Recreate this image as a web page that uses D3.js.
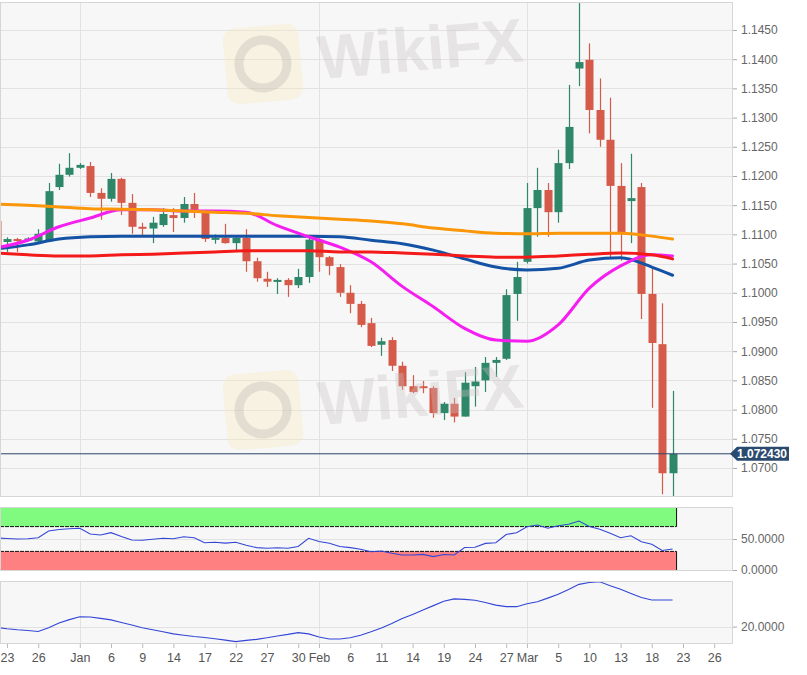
<!DOCTYPE html>
<html>
<head>
<meta charset="utf-8">
<script src="https://cdn.jsdelivr.net/npm/d3@7"></script>
<style>
  body { margin: 0; background: #fff; }
  svg { display: block; font-family: "Liberation Sans", Arial, sans-serif; }
</style>
</head>
<body>
<div id="chart"></div>
<script>
// Daily EUR/USD candles with moving averages and two indicator panes

// Trading days on the axis (the last five are empty future days)
const days = [
  "2019-12-20", "2019-12-23", "2019-12-24", "2019-12-25", "2019-12-26", "2019-12-27", "2019-12-30", "2019-12-31",
  "2020-01-01", "2020-01-02", "2020-01-03", "2020-01-06", "2020-01-07", "2020-01-08", "2020-01-09", "2020-01-10",
  "2020-01-13", "2020-01-14", "2020-01-15", "2020-01-16", "2020-01-17", "2020-01-20", "2020-01-21", "2020-01-22",
  "2020-01-23", "2020-01-24", "2020-01-27", "2020-01-28", "2020-01-29", "2020-01-30", "2020-01-31",
  "2020-02-03", "2020-02-04", "2020-02-05", "2020-02-06", "2020-02-07", "2020-02-10", "2020-02-11", "2020-02-12",
  "2020-02-13", "2020-02-14", "2020-02-17", "2020-02-18", "2020-02-19", "2020-02-20", "2020-02-21", "2020-02-24",
  "2020-02-25", "2020-02-26", "2020-02-27", "2020-02-28",
  "2020-03-02", "2020-03-03", "2020-03-04", "2020-03-05", "2020-03-06", "2020-03-09", "2020-03-10", "2020-03-11",
  "2020-03-12", "2020-03-13", "2020-03-16", "2020-03-17", "2020-03-18", "2020-03-19", "2020-03-20",
  "2020-03-23", "2020-03-24", "2020-03-25", "2020-03-26", "2020-03-27"
];

// OHLC, one value per candle from Dec 20 to Mar 20
const open = [
  1.1123, 1.1087, 1.1092, 1.1092, 1.1088, 1.1090, 1.1181, 1.1202, 1.1214, 1.1217,
  1.1171, 1.1161, 1.1195, 1.1154, 1.1113, 1.1110, 1.1116, 1.1133, 1.1128, 1.1152,
  1.1138, 1.1093, 1.1094, 1.1085, 1.1094, 1.1054, 1.1024, 1.1020, 1.1022, 1.1013,
  1.1027, 1.1091, 1.1061, 1.1044, 1.1000, 1.0981, 1.0948, 1.0911, 1.0919, 1.0875,
  1.0840, 1.0840, 1.0837, 1.0794, 1.0810, 1.0788, 1.0840, 1.0850, 1.0880, 1.0887,
  1.0998, 1.1053, 1.1145, 1.1176, 1.1138, 1.1222, 1.1384, 1.1399, 1.1313, 1.1262,
  1.1183, 1.1157, 1.1181, 1.0998, 1.0912, 1.0691
];
const high = [
  1.1126, 1.1095, 1.1094, 1.1095, 1.1109, 1.1188, 1.1221, 1.1239, 1.1222, 1.1224,
  1.1179, 1.1205, 1.1197, 1.1169, 1.1120, 1.1130, 1.1145, 1.1145, 1.1164, 1.1171,
  1.1142, 1.1100, 1.1118, 1.1097, 1.1109, 1.1060, 1.1036, 1.1025, 1.1025, 1.1041,
  1.1094, 1.1094, 1.1063, 1.1049, 1.1013, 1.0986, 1.0957, 1.0923, 1.0924, 1.0882,
  1.0859, 1.0849, 1.0840, 1.0813, 1.0820, 1.0864, 1.0873, 1.0890, 1.0890, 1.1006,
  1.1053, 1.1188, 1.1214, 1.1188, 1.1245, 1.1356, 1.1496, 1.1427, 1.1367, 1.1334,
  1.1222, 1.1238, 1.1188, 1.1044, 1.0982, 1.0832
];
const low = [
  1.1072, 1.1070, 1.1070, 1.1088, 1.1086, 1.1089, 1.1176, 1.1199, 1.1212, 1.1164,
  1.1125, 1.1156, 1.1133, 1.1101, 1.1096, 1.1085, 1.1113, 1.1104, 1.1120, 1.1128,
  1.1087, 1.1084, 1.1084, 1.1070, 1.1036, 1.1019, 1.1010, 1.0998, 1.0993, 1.1008,
  1.1017, 1.1036, 1.1030, 1.0993, 1.0965, 1.0941, 1.0907, 1.0892, 1.0866, 1.0834,
  1.0828, 1.0828, 1.0786, 1.0782, 1.0778, 1.0788, 1.0805, 1.0830, 1.0856, 1.0885,
  1.0952, 1.1050, 1.1096, 1.1096, 1.1120, 1.1212, 1.1354, 1.1273, 1.1250, 1.1060,
  1.1055, 1.1085, 1.0955, 1.0803, 1.0655, 1.0652
];
const close = [
  1.1080, 1.1092, 1.1090, 1.1093, 1.1101, 1.1174, 1.1202, 1.1214, 1.1219, 1.1171,
  1.1161, 1.1195, 1.1154, 1.1113, 1.1110, 1.1120, 1.1135, 1.1128, 1.1152, 1.1142,
  1.1092, 1.1094, 1.1085, 1.1094, 1.1054, 1.1025, 1.1019, 1.1022, 1.1013, 1.1027,
  1.1091, 1.1061, 1.1046, 1.1000, 1.0981, 1.0945, 1.0909, 1.0917, 1.0875, 1.0840,
  1.0830, 1.0837, 1.0794, 1.0810, 1.0788, 1.0846, 1.0848, 1.0880, 1.0885, 1.0996,
  1.1027, 1.1145, 1.1176, 1.1138, 1.1222, 1.1284, 1.1395, 1.1313, 1.1262, 1.1183,
  1.1104, 1.1162, 1.0998, 1.0914, 1.0691, 1.0724
];

// Moving averages, read every third candle
const maDays = [
  "2019-12-20", "2019-12-25", "2019-12-30", "2020-01-02", "2020-01-07", "2020-01-10", "2020-01-15", "2020-01-20",
  "2020-01-23", "2020-01-28", "2020-01-31", "2020-02-05", "2020-02-10", "2020-02-13", "2020-02-18", "2020-02-21",
  "2020-02-26", "2020-03-02", "2020-03-05", "2020-03-10", "2020-03-13", "2020-03-18", "2020-03-20"
];
const maMagenta = [1.1077, 1.1090, 1.1113, 1.1128, 1.1142, 1.1142, 1.1140, 1.1140, 1.1138, 1.1115, 1.1096, 1.1078,
  1.1053, 1.1011, 1.0976, 1.0939, 1.0919, 1.0917, 1.0945, 1.1008, 1.1046, 1.1065, 1.1063];
const maBlue = [1.1075, 1.1082, 1.1092, 1.1096, 1.1097, 1.1097, 1.1097, 1.1097, 1.1097, 1.1097, 1.1097, 1.1096,
  1.1090, 1.1084, 1.1073, 1.1058, 1.1044, 1.1039, 1.1042, 1.1056, 1.1060, 1.1044, 1.1030];
const maRed = [1.1068, 1.1065, 1.1063, 1.1063, 1.1065, 1.1066, 1.1068, 1.1070, 1.1072, 1.1072, 1.1072, 1.1070,
  1.1070, 1.1068, 1.1066, 1.1063, 1.1061, 1.1061, 1.1063, 1.1066, 1.1068, 1.1065, 1.1058];
const maOrange = [1.1152, 1.1150, 1.1147, 1.1144, 1.1143, 1.1142, 1.1140, 1.1138, 1.1136, 1.1132, 1.1129, 1.1126,
  1.1123, 1.1118, 1.1111, 1.1106, 1.1102, 1.1101, 1.1102, 1.1102, 1.1102, 1.1097, 1.1092];

// Oscillator (0-100) and trend strength, one value per candle
const rsi = [
  51.6, 50.8, 50.0, 50.3, 52.0, 62.9, 65.3, 66.6, 67.3, 58.0,
  56.5, 60.2, 54.0, 48.4, 47.9, 49.5, 51.1, 50.5, 53.7, 52.1,
  44.0, 44.7, 43.4, 44.7, 39.8, 36.1, 35.0, 35.8, 35.0, 37.9,
  51.1, 46.0, 43.2, 37.9, 36.1, 33.4, 29.5, 30.6, 27.1, 24.2,
  24.2, 25.2, 21.6, 25.0, 24.2, 36.3, 36.6, 42.9, 43.9, 57.3,
  60.2, 69.8, 72.6, 67.3, 71.5, 73.7, 79.0, 70.2, 65.6, 59.2,
  52.1, 55.3, 45.6, 41.5, 31.5, 33.9
];
const adx = [
  19.7, 19.2, 18.8, 18.5, 18.1, 19.6, 21.4, 22.7, 23.8, 23.7,
  23.2, 22.6, 21.6, 20.6, 19.6, 18.8, 18.0, 17.2, 16.7, 16.2,
  15.8, 15.3, 14.8, 14.2, 14.7, 15.1, 15.7, 16.4, 17.0, 17.7,
  17.2, 16.0, 15.2, 15.2, 15.7, 16.7, 18.0, 19.5, 21.2, 23.1,
  24.7, 26.4, 28.1, 29.8, 30.7, 30.5, 30.2, 29.3, 28.3, 27.7,
  27.7, 28.8, 29.6, 31.0, 32.5, 34.3, 36.3, 37.0, 37.3, 35.8,
  34.4, 32.8, 31.2, 30.3, 30.3, 30.3
];

// Axis ticks
const tickDays = ["2019-12-23", "2019-12-26", "2020-01-01", "2020-01-06", "2020-01-09", "2020-01-14", "2020-01-17",
  "2020-01-22", "2020-01-27", "2020-01-30", "2020-02-03", "2020-02-06", "2020-02-11", "2020-02-14", "2020-02-19",
  "2020-02-24", "2020-02-27", "2020-03-02", "2020-03-05", "2020-03-10", "2020-03-13", "2020-03-18", "2020-03-23",
  "2020-03-26"];
const tickLabels = ["23", "26", "Jan", "6", "9", "14", "17", "22", "27", "30", "Feb", "6", "11", "14", "19",
  "24", "27", "Mar", "5", "10", "13", "18", "23", "26"];
const monthDays = ["2020-01-01", "2020-02-03", "2020-03-02"];
const priceTicks = [1.0700, 1.0750, 1.0800, 1.0850, 1.0900, 1.0950, 1.1000, 1.1050,
  1.1100, 1.1150, 1.1200, 1.1250, 1.1300, 1.1350, 1.1400, 1.1450];
const rsiTicks = [0, 50];
const adxTicks = [20];
const rsiBands = [[70, 100, "#80fb80"], [0, 30, "#fe8080"]];
const lastPrice = 1.072430;

// Layout
const width = 807, height = 675;
const plotRight = 733;
const panes = {
  main: { top: 2, bottom: 497 },
  rsi: { top: 507, bottom: 571 },
  adx: { top: 581, bottom: 644 }
};
const green = "#2e8769", red = "#d65a49";

const svg = d3.select("#chart").append("svg")
  .attr("width", width)
  .attr("height", height);

// x scale on the trading-day position
const idx = d => days.indexOf(d);
const x = d3.scaleLinear().domain([0.327, 70.81]).range([0, plotRight]);
const bodyW = 8;

// y scales
const y = d3.scaleLinear().domain([1.06503, 1.14979]).range([panes.main.bottom, panes.main.top]);
const yRsi = d3.scaleLinear().domain([0, 100]).range([570, 508]);
const yAdx = d3.scaleLinear().domain([13.3, 37.6]).range([panes.adx.bottom, panes.adx.top]);

// Pane backgrounds, grid and clip
function drawPane(p, name, yScale, ticks) {
  svg.append("rect")
    .attr("x", 0).attr("y", p.top)
    .attr("width", plotRight).attr("height", p.bottom - p.top)
    .attr("fill", "#f7f7f7");
  svg.append("clipPath").attr("id", "clip-" + name)
    .append("rect")
    .attr("x", 0).attr("y", p.top)
    .attr("width", plotRight).attr("height", p.bottom - p.top);
  let g = svg.append("g").attr("clip-path", "url(#clip-" + name + ")");
  // horizontal grid
  g.selectAll(null).data(ticks).enter().append("line")
    .attr("x1", 0).attr("x2", plotRight)
    .attr("y1", d => Math.round(yScale(d)) + 0.5)
    .attr("y2", d => Math.round(yScale(d)) + 0.5)
    .attr("stroke", "#e2e2e2");
  // month grid
  g.selectAll(null).data(monthDays).enter().append("line")
    .attr("x1", d => Math.round(x(idx(d))) + 0.5)
    .attr("x2", d => Math.round(x(idx(d))) + 0.5)
    .attr("y1", p.top).attr("y2", p.bottom)
    .attr("stroke", "#e2e2e2");
  return g;
}

function drawBorder(p) {
  svg.append("rect")
    .attr("x", 0.5).attr("y", p.top + 0.5)
    .attr("width", plotRight - 1).attr("height", p.bottom - p.top - 1)
    .attr("fill", "none")
    .attr("stroke", "#d6d6d6");
}

function drawYAxis(yScale, ticks) {
  let ax = svg.append("g")
    .attr("transform", "translate(" + plotRight + ",0)")
    .call(d3.axisRight(yScale).tickValues(ticks).tickFormat(d3.format(".4f")).tickSize(4).tickPadding(4));
  ax.select(".domain").remove();
  ax.selectAll("line").attr("stroke", "#aaa");
  ax.selectAll("text").attr("fill", "#666").style("font-size", "12px");
}

// ---- Main pane
const gMain = drawPane(panes.main, "main", y, priceTicks);

// Watermarks
function watermark(cx, cy) {
  let w = svg.append("g")
    .attr("transform", "translate(" + cx + "," + cy + ") rotate(-5)");
  w.append("rect")
    .attr("x", -38).attr("y", -38).attr("width", 76).attr("height", 76).attr("rx", 12)
    .attr("fill", "#f5e7b8").attr("opacity", 0.35);
  w.append("circle").attr("r", 24)
    .attr("fill", "none").attr("stroke", "#bdb5b5").attr("stroke-width", 9).attr("opacity", 0.35);
  w.append("text").text("WikiFX")
    .attr("x", 55).attr("y", 20)
    .style("font-size", "62px").style("font-weight", "bold")
    .attr("fill", "#c9c1c1").attr("opacity", 0.35);
}
watermark(263, 64);
watermark(263, 410);

// Candles
const candles = close.map((c, i) => ({ day: days[i], o: open[i], h: high[i], l: low[i], c: c }));
let cg = gMain.selectAll(".candle").data(candles).enter().append("g").attr("class", "candle");
cg.append("line")
  .attr("x1", d => Math.round(x(idx(d.day))) + 0.5)
  .attr("x2", d => Math.round(x(idx(d.day))) + 0.5)
  .attr("y1", d => y(d.h)).attr("y2", d => y(d.l))
  .attr("stroke", d => d.c >= d.o ? green : red)
  .attr("stroke-width", 1.2);
cg.append("rect")
  .attr("x", d => Math.round(x(idx(d.day))) - bodyW / 2 + 0.5)
  .attr("width", bodyW)
  .attr("y", d => y(Math.max(d.o, d.c)))
  .attr("height", d => Math.max(2, Math.abs(y(d.o) - y(d.c))))
  .attr("fill", d => d.c >= d.o ? green : red);

// Moving averages
const maLine = d3.line()
  .x((d, i) => x(idx(maDays[i])))
  .y(d => y(d))
  .curve(d3.curveMonotoneX);
[[maBlue, "#1452a5"], [maMagenta, "#f51ef0"], [maRed, "#f41a1a"], [maOrange, "#fb9608"]].forEach(s => {
  gMain.append("path")
    .datum(s[0])
    .attr("fill", "none")
    .attr("stroke", s[1])
    .attr("stroke-width", 3)
    .attr("stroke-linecap", "round")
    .attr("d", maLine);
});

// Last price line
gMain.append("line")
  .attr("x1", 0).attr("x2", plotRight)
  .attr("y1", y(lastPrice)).attr("y2", y(lastPrice))
  .attr("stroke", "#2b4468").attr("stroke-width", 1);

drawBorder(panes.main);
drawYAxis(y, priceTicks);

// Last price tag
const tagY = y(lastPrice);
svg.append("path")
  .attr("d", "M" + (plotRight - 3) + "," + tagY + " L" + (plotRight + 4) + "," + (tagY - 7) +
    " L789," + (tagY - 7) + " L789," + (tagY + 7) + " L" + (plotRight + 4) + "," + (tagY + 7) + " Z")
  .attr("fill", "#2b4a6f");
svg.append("text").text(d3.format(".6f")(lastPrice))
  .attr("x", 762).attr("y", tagY + 4.5)
  .attr("text-anchor", "middle")
  .attr("fill", "#fff")
  .style("font-size", "12px").style("font-weight", "bold");

// ---- RSI pane
const gRsi = drawPane(panes.rsi, "rsi", yRsi, rsiTicks);
const lastX = x(idx(days[close.length - 1])) + bodyW / 2;
rsiBands.forEach(b => {
  gRsi.append("rect")
    .attr("x", 0).attr("y", yRsi(b[1]))
    .attr("width", lastX).attr("height", yRsi(b[0]) - yRsi(b[1]))
    .attr("fill", b[2]);
});
// band edges
gRsi.append("line").attr("x1", 0).attr("x2", lastX)
  .attr("y1", yRsi(70)).attr("y2", yRsi(70))
  .attr("stroke", "#111").attr("stroke-dasharray", "4,1");
gRsi.append("line").attr("x1", 0).attr("x2", lastX)
  .attr("y1", yRsi(30)).attr("y2", yRsi(30))
  .attr("stroke", "#111").attr("stroke-dasharray", "4,1");
gRsi.append("line").attr("x1", lastX).attr("x2", lastX)
  .attr("y1", yRsi(100)).attr("y2", yRsi(70))
  .attr("stroke", "#111");
gRsi.append("line").attr("x1", lastX).attr("x2", lastX)
  .attr("y1", yRsi(30)).attr("y2", yRsi(0))
  .attr("stroke", "#111");
gRsi.append("path")
  .datum(rsi)
  .attr("fill", "none")
  .attr("stroke", "#3346d6")
  .attr("stroke-width", 1.1)
  .attr("d", d3.line().x((d, i) => x(idx(days[i]))).y(d => yRsi(d)));
drawBorder(panes.rsi);
drawYAxis(yRsi, rsiTicks);

// ---- ADX pane
const gAdx = drawPane(panes.adx, "adx", yAdx, adxTicks);
gAdx.append("path")
  .datum(adx)
  .attr("fill", "none")
  .attr("stroke", "#3346d6")
  .attr("stroke-width", 1.1)
  .attr("d", d3.line().x((d, i) => x(idx(days[i]))).y(d => yAdx(d)));
drawBorder(panes.adx);
drawYAxis(yAdx, adxTicks);

// ---- Date axis
let xa = svg.append("g")
  .attr("transform", "translate(0," + panes.adx.bottom + ")")
  .call(d3.axisBottom(x)
    .tickValues(tickDays.map(idx))
    .tickFormat((d, i) => tickLabels[i])
    .tickSize(4)
    .tickPadding(5));
xa.select(".domain").remove();
xa.selectAll("line").attr("stroke", "#bbb");
xa.selectAll("text").attr("fill", "#555").style("font-size", "12.5px");
</script>
</body>
</html>
